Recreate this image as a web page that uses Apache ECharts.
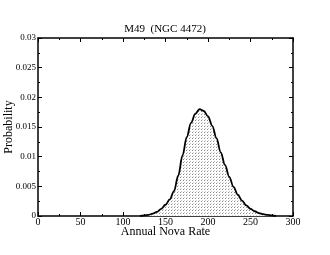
<!DOCTYPE html>
<html><head><meta charset="utf-8">
<script src="https://cdn.jsdelivr.net/npm/echarts@6/dist/echarts.min.js"></script>
<style>html,body{margin:0;padding:0;background:#fff}#c{width:330px;height:255px}</style>
</head><body><div id="c"></div>
<script>
var rates = [120,125,130,135,140,145,150,155,160,165,170,175,180,185,190,195,200,205,210,215,220,225,230,235,240,245,250,255,260,265,270,275,280];
var probs = [0,0.0001,0.0002,0.0004,0.0007,0.0012,0.0019,0.0028,0.0042,0.0068,0.0102,0.0133,0.0157,0.0172,0.0180,0.0177,0.0168,0.0152,0.0131,0.0107,0.0086,0.0066,0.0049,0.0036,0.0026,0.0018,0.0012,0.0008,0.0005,0.0003,0.0002,0.0001,0];
var xTicks = [0,50,100,150,200,250,300];
var yTicks = [0,0.005,0.01,0.015,0.02,0.025,0.03];

var pat = document.createElement('canvas');
pat.width = 3; pat.height = 3;
var g = pat.getContext('2d');
g.fillStyle = '#fff'; g.fillRect(0,0,3,3);
g.fillStyle = '#8a8a8a'; g.fillRect(0,0,1,1);
g.fillStyle = '#c8c8c8'; g.fillRect(1,2,1,1);

var font = 'Liberation Serif';
var chart = echarts.init(document.getElementById('c'), null, {renderer:'canvas'});
var data = rates.map(function(r,i){return [r, probs[i]];});
var axLine = {show:true, onZero:false, lineStyle:{color:'#000', width:1.5}};
var tick = {inside:true, length:4, lineStyle:{color:'#000'}};
var minor = {show:true, splitNumber:2, length:2, lineStyle:{color:'#000'}};
chart.setOption({
  animation:false,
  backgroundColor:'#fff',
  title:{text:'M49  (NGC 4472)', left:'center', top:19, textStyle:{fontFamily:font, fontSize:11, fontWeight:'normal', color:'#000'}},
  grid:{left:38, right:37, top:38, bottom:39, containLabel:false, outerBoundsMode:'none'},
  xAxis:[{type:'value', min:0, max:300, interval:50, name:'Annual Nova Rate', nameLocation:'middle', nameGap:10, nameMoveOverlap:false,
    nameTextStyle:{fontFamily:font, fontSize:12, color:'#000'},
    axisLine:axLine, axisTick:tick, minorTick:minor,
    axisLabel:{fontFamily:font, fontSize:10, color:'#000', margin:1, formatter:function(v){return xTicks.indexOf(v)>=0?String(v):'';}},
    splitLine:{show:false}},
   {type:'value', position:'top', min:0, max:300, interval:50, axisLine:axLine,
    axisTick:tick, minorTick:minor, axisLabel:{show:false}, splitLine:{show:false}}],
  yAxis:[{type:'value', min:0, max:0.03, interval:0.005, name:'Probability', nameLocation:'middle', nameGap:23, nameMoveOverlap:false,
    nameTextStyle:{fontFamily:font, fontSize:12, color:'#000'},
    axisLine:axLine, axisTick:tick, minorTick:minor,
    axisLabel:{fontFamily:font, fontSize:9, color:'#000', margin:2, formatter:function(v){return String(+v.toFixed(3));}},
    splitLine:{show:false}},
   {type:'value', position:'right', min:0, max:0.03, interval:0.005, axisLine:axLine,
    axisTick:tick, minorTick:minor, axisLabel:{show:false}, splitLine:{show:false}}],
  series:[{type:'line', data:data, smooth:0.35, smoothMonotone:'x', symbol:'none', xAxisIndex:0, yAxisIndex:0,
    lineStyle:{color:'#000', width:1.8},
    areaStyle:{color:{image:pat, repeat:'repeat'}, opacity:1}}]
});
</script></body></html>
